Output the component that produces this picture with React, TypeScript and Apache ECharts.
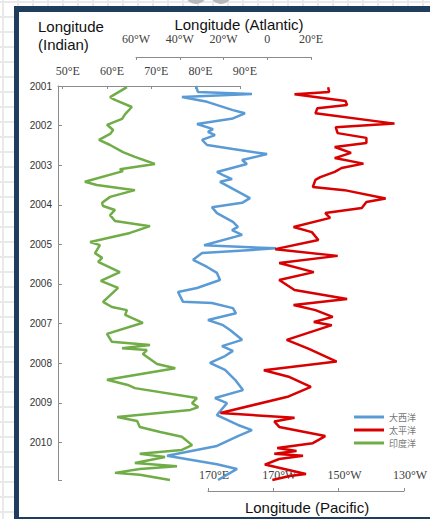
import React, { useEffect, useRef } from 'react';
import * as echarts from 'echarts';

// ---- Data ----
// Atlantic (大西洋): longitude in degrees, west negative
const atlanticYears = [
  2001.00, 2001.15, 2001.20, 2001.28, 2001.40, 2001.61, 2001.69, 2001.82, 2001.96, 2002.09,
  2002.16, 2002.24, 2002.36, 2002.49, 2002.59, 2002.72, 2002.87, 2002.97, 2003.17, 2003.25,
  2003.35, 2003.42, 2003.60, 2003.83, 2003.95, 2004.06, 2004.21, 2004.43, 2004.56, 2004.64,
  2004.76, 2005.02, 2005.10, 2005.22, 2005.39, 2005.57, 2005.72, 2005.90, 2006.10, 2006.20,
  2006.45, 2006.48, 2006.61, 2006.74, 2006.91, 2007.04, 2007.16, 2007.41, 2007.57, 2007.69,
  2007.82, 2007.99, 2008.17, 2008.42, 2008.68, 2008.88, 2009.01, 2009.31, 2009.56, 2009.69,
  2009.84, 2010.09, 2010.34, 2010.55, 2010.67, 2010.95,
];
const atlanticLon = [
  -32.6, -31.7, -7.0, -39.0, -27.5, -15.7, -10.2, -15.7, -32.1, -24.8,
  -27.1, -23.9, -29.8, -27.5, -15.7, -0.1, -11.5, -9.3, -23.0, -20.2,
  -16.1, -21.6, -15.7, -7.9, -11.5, -25.3, -23.0, -15.7, -13.4, -16.1,
  -11.5, -28.9, 4.0, -29.8, -33.9, -27.5, -23.0, -21.6, -32.1, -40.8,
  -38.5, -25.3, -15.7, -14.3, -27.1, -20.2, -17.0, -11.5, -20.7, -15.7,
  -19.3, -26.2, -19.3, -14.7, -11.1, -23.9, -18.4, -23.0, -13.4, -7.0,
  -13.4, -23.0, -45.8, -23.0, -13.8, -22.5,
];

// Pacific (太平洋): longitude on a 0–360° east scale
const pacificYears = [
  2001.03, 2001.15, 2001.21, 2001.38, 2001.48, 2001.56, 2001.69, 2001.95,
  2002.04, 2002.19, 2002.31, 2002.44, 2002.54, 2002.69, 2002.82, 2002.96,
  2003.07, 2003.17, 2003.30, 2003.37, 2003.55, 2003.63, 2003.84, 2003.93,
  2004.08, 2004.21, 2004.33, 2004.56, 2004.69, 2004.89,
  2005.12, 2005.29, 2005.47, 2005.70, 2005.90,
  2006.15, 2006.38, 2006.53, 2006.66, 2006.83, 2006.96,
  2007.04, 2007.41, 2007.64, 2007.96,
  2008.18, 2008.35, 2008.60, 2008.84,
  2009.26, 2009.38, 2009.47, 2009.61, 2009.84,
  2010.02, 2010.14, 2010.22, 2010.29, 2010.34, 2010.42, 2010.56, 2010.80, 2010.85, 2010.95,
];
const pacificLon = [
  206.8, 207.1, 196.5, 212.1, 212.6, 203.5, 202.9, 227.1,
  209.1, 209.7, 218.5, 218.5, 208.8, 213.8, 208.8, 217.6,
  210.9, 208.8, 204.4, 202.9, 202.1, 211.8, 224.4, 218.5,
  217.1, 205.9, 207.4, 196.2, 201.8, 203.8,
  190.6, 209.7, 191.8, 202.4, 191.8,
  196.5, 212.6, 196.2, 202.9, 208.2, 202.4,
  207.9, 194.1, 200.9, 209.4,
  187.1, 195.0, 201.5, 194.7,
  173.8, 196.5, 190.3, 191.8, 205.9,
  202.1, 191.2, 197.1, 190.3, 199.1, 191.8, 187.4, 200.0, 195.0, 189.7,
];

// Indian (印度洋): longitude east
const indianYears = [
  2001.03, 2001.28, 2001.35, 2001.53, 2001.71, 2001.83, 2001.98, 2002.11, 2002.21, 2002.36,
  2002.49, 2002.67, 2002.79, 2002.97, 2003.10, 2003.15, 2003.42, 2003.50, 2003.63, 2003.80,
  2003.95, 2004.03, 2004.13, 2004.26, 2004.41, 2004.54, 2004.71, 2004.94, 2005.02, 2005.22,
  2005.34, 2005.44, 2005.70, 2005.92, 2006.10, 2006.45, 2006.58, 2006.66, 2006.78, 2006.98,
  2007.26, 2007.46, 2007.54, 2007.62, 2007.67, 2007.77, 2008.02, 2008.13, 2008.42, 2008.55,
  2008.63, 2008.88, 2009.01, 2009.11, 2009.18, 2009.36, 2009.46, 2009.61, 2009.74, 2009.86,
  2010.07, 2010.19, 2010.29, 2010.37, 2010.52, 2010.60, 2010.67, 2010.77, 2010.82, 2010.95,
];
const indianLon = [
  64.5, 60.7, 61.8, 65.6, 64.1, 63.4, 60.0, 61.4, 60.7, 58.2,
  60.7, 63.6, 66.3, 70.8, 62.9, 63.6, 55.0, 57.7, 66.3, 60.7,
  58.9, 59.1, 61.8, 60.7, 61.8, 69.7, 65.2, 56.2, 58.4, 57.3,
  58.9, 58.0, 62.9, 58.6, 62.5, 59.1, 61.1, 64.5, 64.1, 68.1,
  60.0, 61.1, 69.7, 63.4, 69.0, 68.1, 71.3, 75.4, 60.0, 64.7,
  66.3, 80.3, 79.2, 80.6, 78.8, 62.3, 66.8, 67.4, 72.0, 76.9,
  79.2, 76.9, 67.4, 73.1, 66.3, 75.8, 67.4, 61.8, 67.4, 74.2,
];

// Tick labels
const yearTicks = [2001, 2002, 2003, 2004, 2005, 2006, 2007, 2008, 2009, 2010];
const indianTickValues = [50, 60, 70, 80, 90];
const indianTickLabels = ['50°E', '60°E', '70°E', '80°E', '90°E'];
const atlanticTickValues = [-60, -40, -20, 0, 20];
const atlanticTickLabels = ['60°W', '40°W', '20°W', '0', '20°E'];
const pacificTickValues = [170, 190, 210, 230];
const pacificTickLabels = ['170°E', '170°W', '150°W', '130°W'];

const seriesNames = ['大西洋', '太平洋', '印度洋'];
const seriesColors = ['#5B9BD5', '#D80000', '#70AD47'];

const pick = (values: number[], labels: string[]) => (v: number) => {
  const i = values.findIndex((t) => Math.abs(t - v) < 1e-6);
  return i >= 0 ? labels[i] : '';
};

export default function App() {
  const ref = useRef<HTMLDivElement>(null);

  useEffect(() => {
    if (!ref.current) return;
    const chart = echarts.init(ref.current, null, { renderer: 'svg' });

    const bg: any[] = [
      { type: 'rect', z: -20, shape: { x: 0, y: 0, width: 430, height: 519 }, style: { fill: '#ffffff' } },
    ];
    for (let x = 3; x < 430; x += 15) {
      bg.push({ type: 'line', z: -19, shape: { x1: x, y1: 0, x2: x, y2: 519 }, style: { stroke: '#e9e9e9', lineWidth: 2 } });
    }
    for (let y = 2; y < 519; y += 15) {
      bg.push({ type: 'line', z: -19, shape: { x1: 0, y1: y, x2: 430, y2: y }, style: { stroke: '#e9e9e9', lineWidth: 2 } });
    }
    bg.push(
      { type: 'circle', z: -18, shape: { cx: 196, cy: -7, r: 11 }, style: { fill: '#b8b8b8' } },
      { type: 'circle', z: -18, shape: { cx: 221, cy: -7, r: 11 }, style: { fill: '#b8b8b8' } },
      { type: 'rect', z: -10, shape: { x: 14, y: 6, width: 440, height: 520 }, style: { fill: '#1F3D5C' } },
      { type: 'rect', z: -9, shape: { x: 19, y: 12, width: 430, height: 505 }, style: { fill: '#ffffff' } },
    );

    const titleFont = { fontFamily: 'Liberation Sans, Arial, sans-serif', fontSize: 15, fill: '#111' };
    const texts: any[] = [
      { type: 'text', z: 100, left: 38, top: 19, style: { ...titleFont, text: 'Longitude' } },
      { type: 'text', z: 100, left: 38, top: 37, style: { ...titleFont, text: '(Indian)' } },
      { type: 'text', z: 100, x: 239, y: 24, style: { ...titleFont, text: 'Longitude (Atlantic)', align: 'center', verticalAlign: 'middle' } },
      { type: 'text', z: 100, x: 307, y: 507, style: { ...titleFont, text: 'Longitude (Pacific)', align: 'center', verticalAlign: 'middle' } },
    ];

    const axisGray = '#8c8c8c';
    const serifLabel = { fontFamily: 'Liberation Serif, serif', fontSize: 12, color: '#404040' };
    const yBase = { type: 'value', inverse: true, min: 2001, max: 2010.95, interval: 1 };

    const option: any = {
      animation: false,
      graphic: [...bg, ...texts],
      grid: [
        { left: 58, top: 86, width: 182, height: 394 },
        { left: 136, top: 86, width: 175, height: 394 },
        { left: 208, top: 86, width: 204, height: 394 },
      ],
      xAxis: [
        {
          gridIndex: 0, type: 'value', position: 'top', min: 48.94, max: 90.02,
          splitLine: { show: false },
          axisLine: { lineStyle: { color: axisGray } },
          axisTick: { inside: true, length: 3, lineStyle: { color: axisGray } },
          axisLabel: { ...serifLabel, margin: 9, padding: [0, 0, 0, 10], formatter: pick(indianTickValues, indianTickLabels) },
        },
        {
          gridIndex: 1, type: 'value', position: 'top', offset: 29, min: -60, max: 20, interval: 20,
          splitLine: { show: false },
          axisLine: { lineStyle: { color: axisGray } },
          axisTick: { inside: true, length: 3, lineStyle: { color: axisGray } },
          axisLabel: { ...serifLabel, margin: 12, formatter: pick(atlanticTickValues, atlanticTickLabels) },
        },
        {
          gridIndex: 2, type: 'value', position: 'bottom', offset: 11, min: 170, max: 230, interval: 20,
          splitLine: { show: false },
          axisLine: { lineStyle: { color: axisGray } },
          axisTick: { inside: true, length: 3, lineStyle: { color: axisGray } },
          axisLabel: { ...serifLabel, inside: true, margin: 10, padding: [0, 0, 0, 12], formatter: pick(pacificTickValues, pacificTickLabels) },
        },
      ],
      yAxis: [
        {
          gridIndex: 0, ...yBase,
          splitLine: { show: false },
          axisLine: { show: true, lineStyle: { color: axisGray } },
          axisTick: { inside: true, length: 4, lineStyle: { color: axisGray } },
          axisLabel: {
            fontFamily: 'Liberation Sans, Arial, sans-serif', fontSize: 10, color: '#333', margin: 6,
            formatter: (v: number) => (yearTicks.includes(v) ? String(v) : ''),
          },
        },
        { gridIndex: 1, ...yBase, show: false },
        { gridIndex: 2, ...yBase, show: false },
      ],
      legend: {
        orient: 'vertical', left: 354, top: 411, padding: 0, itemGap: 1,
        itemWidth: 30, itemHeight: 3, icon: 'rect',
        textStyle: { fontSize: 9, lineHeight: 12, color: '#777', fontFamily: 'Noto Sans CJK SC' },
        data: seriesNames,
      },
      series: [
        {
          name: seriesNames[0], type: 'line', xAxisIndex: 1, yAxisIndex: 1, showSymbol: false, clip: false,
          color: seriesColors[0], lineStyle: { width: 2.5, color: seriesColors[0] },
          data: atlanticYears.map((y, i) => [atlanticLon[i], y]),
        },
        {
          name: seriesNames[1], type: 'line', xAxisIndex: 2, yAxisIndex: 2, showSymbol: false, clip: false,
          color: seriesColors[1], lineStyle: { width: 2.5, color: seriesColors[1] },
          data: pacificYears.map((y, i) => [pacificLon[i], y]),
        },
        {
          name: seriesNames[2], type: 'line', xAxisIndex: 0, yAxisIndex: 0, showSymbol: false, clip: false,
          color: seriesColors[2], lineStyle: { width: 2.5, color: seriesColors[2] },
          data: indianYears.map((y, i) => [indianLon[i], y]),
        },
      ],
    };

    chart.setOption(option);
    return () => chart.dispose();
  }, []);

  return <div ref={ref} style={{ position: 'absolute', left: 0, top: 0, width: 430, height: 519 }} />;
}
